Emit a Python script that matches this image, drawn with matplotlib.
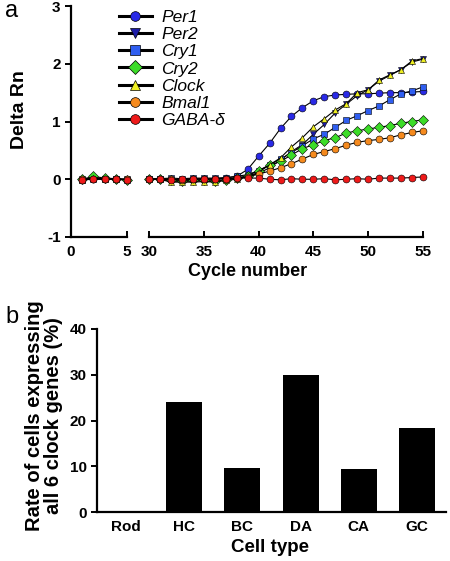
import matplotlib
matplotlib.use('Agg')
import matplotlib.pyplot as plt
from matplotlib.lines import Line2D

plt.rcParams['font.family'] = ['Liberation Sans', 'DejaVu Sans']
plt.rcParams['axes.unicode_minus'] = False

# panel a: real-time PCR amplification curves
cycles_left = [1, 2, 3, 4, 5]
cycles_right = list(range(30, 56))

genes = ['Per1', 'Per2', 'Cry1', 'Cry2', 'Clock', 'Bmal1', 'GABA-δ']
colors = ['#2a2ae6', '#1c1ca8', '#2f5ef0', '#3cdc28', '#eeee22', '#f58a1e', '#ee1a1a']
markers = ['o', 'v', 's', 'D', '^', 'o', 'o']

left_vals = {
    'Per1':   [-0.02, 0.01, 0.01, 0.00, -0.01],
    'Per2':   [0.00, 0.02, 0.01, 0.00, 0.00],
    'Cry1':   [-0.01, 0.01, 0.00, 0.01, -0.01],
    'Cry2':   [0.00, 0.05, 0.02, 0.01, -0.02],
    'Clock':  [-0.01, 0.03, 0.01, 0.00, 0.00],
    'Bmal1':  [0.00, 0.01, 0.00, 0.01, 0.00],
    'GABA-δ': [-0.01, 0.00, 0.00, 0.00, -0.01],
}

right_vals = {
    'Per1':   [0.00, 0.01, 0.00, -0.02, 0.00, 0.01, 0.00, 0.02, 0.05, 0.17, 0.40, 0.62, 0.88,
               1.09, 1.24, 1.36, 1.43, 1.46, 1.47, 1.48, 1.48, 1.49, 1.50, 1.50, 1.51, 1.52],
    'Per2':   [0.00, 0.00, -0.03, -0.04, -0.03, -0.03, -0.04, -0.01, 0.02, 0.05, 0.10, 0.20, 0.33,
               0.48, 0.60, 0.78, 0.95, 1.15, 1.30, 1.45, 1.55, 1.70, 1.80, 1.90, 2.03, 2.08],
    'Cry1':   [0.00, 0.01, 0.02, 0.01, 0.02, 0.02, 0.02, 0.03, 0.05, 0.08, 0.15, 0.25, 0.35,
               0.46, 0.58, 0.70, 0.78, 0.90, 1.02, 1.10, 1.19, 1.27, 1.38, 1.48, 1.53, 1.60],
    'Cry2':   [0.00, 0.00, -0.02, -0.03, -0.02, -0.02, -0.03, -0.01, 0.02, 0.06, 0.15, 0.24, 0.31,
               0.42, 0.53, 0.60, 0.67, 0.72, 0.80, 0.84, 0.87, 0.90, 0.93, 0.97, 1.00, 1.03],
    'Clock':  [0.00, 0.00, -0.05, -0.05, -0.05, -0.04, -0.05, -0.02, 0.00, 0.05, 0.12, 0.25, 0.37,
               0.56, 0.72, 0.91, 1.05, 1.20, 1.31, 1.50, 1.55, 1.72, 1.81, 1.90, 2.05, 2.09],
    'Bmal1':  [0.00, 0.00, 0.00, -0.01, 0.00, 0.00, 0.00, 0.01, 0.02, 0.04, 0.09, 0.14, 0.20,
               0.27, 0.35, 0.43, 0.48, 0.53, 0.59, 0.64, 0.67, 0.69, 0.72, 0.77, 0.81, 0.84],
    'GABA-δ': [0.00, 0.01, -0.01, 0.00, 0.01, 0.00, 0.01, 0.01, 0.02, 0.02, 0.02, 0.00, -0.01,
               0.01, 0.00, 0.00, 0.01, -0.01, 0.00, 0.01, 0.00, 0.02, 0.02, 0.02, 0.03, 0.04],
}

# panel b: cell types
cell_types = ['Rod', 'HC', 'BC', 'DA', 'CA', 'GC']
rates = [0, 24, 9.6, 30, 9.3, 18.3]

W, H = 450, 561
TICK_FS = 11
fig = plt.figure(figsize=(4.5, 5.61), dpi=100)

bot_a = 1 - 237 / H
h_a = 231 / H
ax1 = fig.add_axes([71 / W, bot_a, 56 / W, h_a])
ax2 = fig.add_axes([149 / W, bot_a, 274 / W, h_a])

for g, c, m in zip(genes, colors, markers):
    kw = dict(color='black', lw=0.8, marker=m, markerfacecolor=c,
              markeredgecolor='black', markeredgewidth=0.4, ms=5, clip_on=False)
    ax1.plot(cycles_left, left_vals[g], **kw)
    ax2.plot(cycles_right, right_vals[g], **kw)

for ax in (ax1, ax2):
    ax.set_ylim(-1, 3)
    ax.spines['top'].set_visible(False)
    ax.spines['right'].set_visible(False)
    ax.spines['bottom'].set_linewidth(1.6)
    ax.spines['left'].set_linewidth(1.6)
    ax.tick_params(axis='x', direction='in', length=4, width=1.4, labelsize=TICK_FS, pad=6)

ax1.set_xlim(0, 5)
ax1.set_xticks([0, 5])
ax1.set_yticks([-1, 0, 1, 2, 3])
ax1.tick_params(axis='y', direction='out', length=4, width=1.4, labelsize=TICK_FS)
for lab in ax1.get_xticklabels() + ax1.get_yticklabels():
    lab.set_fontweight('bold')

ax2.set_xlim(30, 55)
ax2.set_xticks([30, 35, 40, 45, 50, 55])
ax2.spines['left'].set_visible(False)
ax2.set_yticks([])
for lab in ax2.get_xticklabels():
    lab.set_fontweight('bold')

handles = [Line2D([], [], color='black', lw=2.2, marker=m, markerfacecolor=c,
                  markeredgecolor='black', markeredgewidth=0.5, ms=7)
           for c, m in zip(colors, markers)]
leg = fig.legend(handles, genes, loc='upper left', bbox_to_anchor=(110 / W, 1 - 1 / H),
                 frameon=False, borderpad=0, handlelength=1.9, handletextpad=0.55,
                 labelspacing=0.12, prop={'size': 12.5, 'style': 'italic'})

fig.text(5 / W, 1 - 11 / H, 'a', fontsize=17, va='center', ha='left')
fig.text(20 / W, 1 - 110 / H, 'Delta Rn', rotation=90, fontsize=14,
         fontweight='bold', ha='center', va='center')
fig.text(248 / W, 1 - 272 / H, 'Cycle number', fontsize=13,
         fontweight='bold', ha='center', va='center')

# panel b
ax3 = fig.add_axes([97 / W, 1 - 512 / H, 349 / W, 183 / H])
ax3.bar(range(len(cell_types)), rates, width=0.62, color='black')
ax3.set_xlim(-0.5, 5.5)
ax3.set_ylim(0, 40)
ax3.set_yticks([0, 10, 20, 30, 40])
ax3.set_xticks(range(len(cell_types)))
ax3.set_xticklabels(cell_types)
ax3.spines['top'].set_visible(False)
ax3.spines['right'].set_visible(False)
ax3.spines['bottom'].set_linewidth(1.6)
ax3.spines['left'].set_linewidth(1.6)
ax3.tick_params(axis='x', length=0, labelsize=TICK_FS, pad=6)
ax3.tick_params(axis='y', direction='out', length=4, width=1.4, labelsize=TICK_FS)
for lab in ax3.get_xticklabels() + ax3.get_yticklabels():
    lab.set_fontweight('bold')

fig.text(5 / W, 1 - 317 / H, 'b', fontsize=17, va='center', ha='left')
fig.text(44 / W, 1 - 416 / H, 'Rate of cells expressing\nall 6 clock genes (%)',
         rotation=90, fontsize=14.5, fontweight='bold', ha='center', va='center',
         linespacing=1.0)
fig.text(270 / W, 1 - 548 / H, 'Cell type', fontsize=13.5,
         fontweight='bold', ha='center', va='center')

fig.savefig('out.png', dpi=100)
